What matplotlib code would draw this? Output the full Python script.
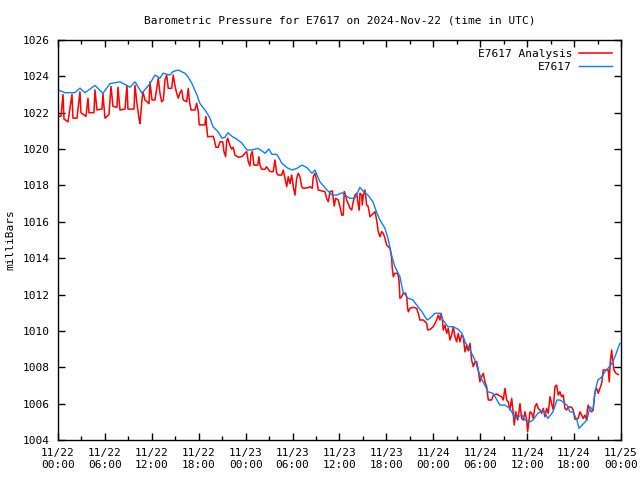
import datetime as dt

import matplotlib
matplotlib.use('Agg')
import matplotlib.dates as mdates
import matplotlib.pyplot as plt

# Station pressure (hours after 2024-11-22 00:00 UTC, mbar)
obs_hours = [
    0.0, 0.9, 2.17, 2.81, 3.45, 4.73, 5.75, 6.65, 7.93, 9.21, 9.85, 10.74,
    11.76, 12.40, 13.04, 13.43, 14.32, 14.71, 15.35, 16.24, 16.62, 17.14,
    17.77, 18.16, 18.80, 19.44, 19.82, 20.46, 20.97, 21.36, 21.74, 22.25,
    22.89, 23.53, 24.17, 24.81, 25.58, 26.09, 26.47, 26.98, 27.37, 28.0,
    28.64, 29.28, 29.92, 30.56, 31.20, 31.84, 32.48, 32.86, 33.50, 34.40,
    35.04, 35.68, 36.32, 36.70, 37.34, 37.98, 38.62, 39.0, 39.64, 40.28,
    40.79, 41.18, 41.82, 42.2, 42.71, 43.09, 43.73, 44.12, 44.76, 45.40,
    46.04, 46.55, 47.19, 47.57, 48.21, 48.85, 49.23, 49.87, 50.51, 51.15,
    51.66, 52.05, 52.69, 53.32, 53.71, 54.22, 54.60, 54.99, 55.63, 56.14,
    56.52, 57.16, 57.80, 58.44, 58.82, 59.34, 59.72, 60.36, 60.74, 61.38,
    62.02, 62.66, 63.30, 63.81, 64.19, 64.58, 65.09, 65.47, 65.86, 66.37,
    66.62, 67.01, 67.65, 68.03, 68.41, 68.67, 69.05, 69.57, 69.95, 70.33,
    70.84, 71.23, 71.61, 71.87,
]
obs_mb = [
    1023.25, 1023.1, 1023.1, 1023.35, 1023.1, 1023.5, 1023.07, 1023.6,
    1023.7, 1023.4, 1023.7, 1023.07, 1023.6, 1024.07, 1023.9, 1024.17,
    1024.07, 1024.26, 1024.35, 1024.17, 1023.98, 1023.6, 1022.97, 1022.5,
    1022.15, 1021.7, 1021.23, 1020.96, 1020.6, 1020.65, 1020.9, 1020.7,
    1020.54, 1020.32, 1019.95, 1019.95, 1020.04, 1019.9, 1019.77, 1020.0,
    1019.71, 1019.71, 1019.22, 1018.98, 1018.85, 1018.94, 1019.12, 1018.98,
    1018.67, 1018.85, 1018.2, 1017.75, 1017.47, 1017.47, 1017.6, 1017.47,
    1017.29, 1017.3, 1017.9, 1017.7, 1017.47, 1017.1, 1016.47, 1016.1,
    1015.64, 1015.09, 1014.08, 1013.53, 1012.98, 1012.15, 1011.8, 1011.7,
    1011.33, 1011.05, 1010.6, 1010.7, 1010.97, 1010.97, 1010.6, 1010.23,
    1010.23, 1010.1, 1009.87, 1009.4, 1008.95, 1008.4, 1007.85, 1007.3,
    1007.02, 1006.65, 1006.57, 1006.2, 1005.92, 1005.92, 1005.74, 1005.19,
    1005.28, 1005.37, 1005.1, 1005.0, 1005.1, 1005.47, 1005.65, 1005.19,
    1005.55, 1006.2, 1006.2, 1006.1, 1005.92, 1005.55, 1005.55, 1005.1,
    1004.64, 1004.82, 1005.1, 1005.83, 1005.65, 1006.65, 1007.3, 1007.48,
    1007.76, 1007.94, 1008.22, 1008.58, 1009.04, 1009.32,
]

# Analysis pressure
ana_hours = [
    0.0, 0.38, 0.64, 0.77, 1.28, 1.79, 1.92, 2.43, 2.81, 2.94, 3.58, 3.84,
    3.96, 4.60, 4.73, 4.99, 5.63, 5.75, 6.01, 6.52, 6.78, 7.03, 7.54, 7.67,
    7.93, 8.57, 8.82, 8.95, 9.72, 9.85, 10.10, 10.36, 10.49, 10.74, 10.87,
    11.13, 11.64, 11.76, 12.02, 12.40, 12.83, 13.04, 13.26, 13.47, 13.68,
    13.90, 14.10, 14.54, 14.74, 14.96, 15.18, 15.38, 15.6, 15.82, 16.02,
    16.46, 16.66, 16.79, 17.01, 17.52, 17.74, 17.94, 18.07, 18.80, 18.89,
    18.99, 19.14, 19.86, 19.99, 20.20, 20.50, 20.72, 21.06, 21.23, 21.44,
    21.57, 21.70, 21.99, 22.21, 22.42, 22.63, 23.06, 23.57, 23.91, 24.13,
    24.34, 24.55, 24.68, 24.85, 25.06,
    25.19, 25.54, 25.70, 25.83, 26.05, 26.47, 26.69, 26.89, 27.11, 27.53,
    27.75, 27.97, 28.17, 28.61, 28.81, 29.25, 29.45, 29.67, 29.89, 30.09,
    30.31, 30.52, 30.73, 30.95, 31.16, 31.37, 32.01, 32.23, 32.52, 32.65,
    32.86, 33.08, 33.29, 33.72, 34.14, 34.36, 34.57, 34.78, 35.08, 35.33,
    35.51, 35.84, 36.06, 36.28, 36.48, 36.61, 36.70, 36.92, 37.12, 37.34,
    37.56, 37.76,
    37.98, 38.20, 38.40, 38.53, 38.62, 38.84, 38.91, 39.04, 39.26, 39.48,
    39.68, 39.90, 40.12, 40.32, 40.54, 40.75, 40.96, 41.18, 41.39, 41.60,
    41.82, 42.03, 42.24, 42.46, 42.67, 42.75, 42.88, 43.09, 43.44, 43.61,
    43.73, 43.95, 44.16, 44.46, 44.59, 44.72, 44.80, 45.01, 45.43, 45.87,
    46.07, 46.29, 46.71, 46.93, 47.15, 47.28, 47.57, 47.99, 48.43, 48.63,
    48.85, 48.98, 49.14, 49.27, 49.49, 49.71, 49.91, 50.13, 50.35, 50.55,
    50.77, 50.98, 51.19, 51.41, 51.62, 51.83,
    52.05, 52.26, 52.47, 52.69, 52.90, 53.11, 53.32, 53.54, 53.75, 53.96,
    54.18, 54.39, 54.60, 54.82, 55.03, 55.46, 55.67, 56.10, 56.30, 56.74,
    56.94, 57.16, 57.38, 57.58, 57.80, 58.02, 58.22, 58.35, 58.53, 58.79,
    58.95, 59.08, 59.30, 59.50, 59.72, 59.94, 60.06, 60.23, 60.36, 60.58,
    60.78, 61.00, 61.21, 61.42, 61.64, 61.85, 62.06, 62.28, 62.49, 62.70,
    62.92, 63.13, 63.34, 63.55, 63.77, 63.98, 64.19, 64.41, 64.62,
    64.83, 65.05, 65.26, 65.69, 65.90, 66.11, 66.53, 66.75, 66.97, 67.17,
    67.39, 67.61, 67.69, 67.81, 68.03, 68.25, 68.45, 68.67, 68.89, 69.09,
    69.31, 69.53, 69.73, 69.95, 70.37, 70.50, 70.59, 70.68, 70.81, 70.93,
    71.10, 71.36, 71.65,
]
ana_mb = [
    1021.8, 1021.8, 1023.0, 1021.65, 1021.5, 1023.0, 1021.7, 1021.7, 1023.15,
    1022.0, 1021.8, 1022.8, 1022.0, 1022.0, 1023.25, 1022.15, 1022.2, 1023.05,
    1021.7, 1021.9, 1023.45, 1022.35, 1022.3, 1023.4, 1022.15, 1022.2, 1023.5,
    1022.2, 1022.2, 1023.5, 1022.5, 1021.7, 1021.4, 1022.7, 1023.15, 1022.7,
    1022.5, 1023.7, 1022.7, 1022.7, 1023.9, 1023.07, 1022.6, 1022.7, 1023.8,
    1024.07, 1023.34, 1023.34, 1024.07, 1023.5, 1023.07, 1022.8, 1023.1,
    1023.25, 1022.7, 1022.6, 1023.34, 1022.7, 1022.15, 1022.15, 1022.52,
    1022.06, 1021.33, 1021.33, 1021.78, 1021.33, 1020.68, 1020.7, 1020.5,
    1020.1, 1020.1, 1020.4, 1020.4, 1019.86, 1019.58, 1020.4, 1020.6, 1020.2,
    1020.0, 1020.1, 1019.67, 1019.55, 1019.6, 1019.77, 1019.86, 1019.3,
    1019.07, 1019.7, 1019.86, 1019.12,
    1019.12, 1019.12, 1019.58, 1019.12, 1018.89, 1018.89, 1019.03, 1018.89,
    1018.76, 1018.76, 1019.4, 1018.67, 1018.57, 1018.57, 1018.85, 1017.93,
    1018.48, 1018.1, 1018.57, 1017.93, 1017.47, 1018.39, 1018.67, 1018.48,
    1017.93, 1017.84, 1017.88, 1017.93, 1017.84, 1018.48, 1018.67, 1018.3,
    1017.75, 1017.7, 1017.66, 1017.29, 1017.1, 1017.66, 1017.7, 1016.87,
    1017.29, 1017.2, 1016.83, 1016.37, 1016.37, 1017.66, 1017.57, 1017.2,
    1017.0, 1016.74, 1016.65, 1017.1,
    1017.47, 1017.57, 1016.92, 1016.65, 1017.57, 1017.47, 1016.92, 1017.47,
    1017.75, 1016.92, 1016.83, 1016.28, 1016.37, 1016.46, 1016.56, 1016.1,
    1015.46, 1015.18, 1015.46, 1015.37, 1015.09, 1014.72, 1014.63, 1014.54,
    1014.0, 1013.44, 1012.98, 1013.17, 1013.17, 1012.8, 1011.79, 1011.88,
    1012.07, 1012.07, 1011.88, 1011.24, 1011.05, 1011.24, 1011.3, 1011.24,
    1010.97, 1010.6, 1010.6, 1010.51, 1010.42, 1010.05, 1010.08, 1010.23,
    1010.6, 1010.87, 1010.6, 1010.97, 1010.69, 1010.05, 1010.32, 1009.87,
    1010.14, 1009.5, 1009.77, 1010.23, 1009.68, 1009.4, 1009.86, 1009.4,
    1009.77, 1009.68,
    1008.85, 1009.2, 1008.9, 1009.32, 1008.4, 1008.03, 1008.3, 1008.31,
    1007.85, 1007.2, 1007.48, 1007.67, 1007.2, 1006.93, 1006.2, 1006.2,
    1006.47, 1006.53, 1006.47, 1006.38, 1006.2, 1006.84, 1006.2, 1006.1,
    1005.65, 1006.29, 1005.47, 1004.82, 1005.56, 1005.1, 1005.55, 1006.0,
    1005.19, 1005.1, 1005.55, 1005.1, 1004.45, 1005.1, 1005.55, 1005.47,
    1005.19, 1005.83, 1006.0, 1005.74, 1005.65, 1005.47, 1005.74, 1005.28,
    1005.74, 1005.47, 1006.38, 1006.0, 1005.65, 1006.93, 1007.02, 1006.47,
    1006.65, 1006.38, 1006.47,
    1005.74, 1005.65, 1005.83, 1005.8, 1005.65, 1005.14, 1005.19, 1005.55,
    1005.37, 1005.19, 1005.37, 1005.1, 1005.65, 1005.92, 1005.65, 1005.55,
    1005.65, 1006.65, 1006.84, 1006.57, 1006.84, 1007.12, 1007.85, 1007.85,
    1007.85, 1007.2, 1008.03, 1008.49, 1008.95, 1008.4, 1007.85, 1007.67,
    1007.6,
]

start = dt.datetime(2024, 11, 22)
y_ticks = list(range(1004, 1027, 2))

plt.rcParams['font.family'] = ['DejaVu Sans Mono']
plt.rcParams['font.size'] = 8

obs_t = [start + dt.timedelta(hours=h) for h in obs_hours]
ana_t = [start + dt.timedelta(hours=h) for h in ana_hours]

fig = plt.figure(figsize=(6.4, 4.8), dpi=100)
ax = fig.add_axes([0.0906, 0.0833, 0.8797, 0.8334])

ax.plot(ana_t, ana_mb, color='#ff0000', linewidth=1.1, label='E7617 Analysis')
ax.plot(obs_t, obs_mb, color='#0a80ff', linewidth=1.0, label='E7617')

ax.set_xlim(start, start + dt.timedelta(hours=72))
ax.set_ylim(1004, 1026)
ax.set_yticks(y_ticks)

ax.xaxis.set_major_locator(mdates.HourLocator(byhour=[0, 6, 12, 18]))
ax.xaxis.set_minor_locator(mdates.HourLocator(byhour=[3, 9, 15, 21]))
ax.xaxis.set_major_formatter(mdates.DateFormatter('%m/%d\n%H:%M'))

ax.tick_params(which='both', direction='in', top=True, right=True, width=1)
ax.tick_params(which='major', length=5, pad=6)
ax.tick_params(which='minor', length=3)
for s in ax.spines.values():
    s.set_linewidth(1.0)

ax.set_title('Barometric Pressure for E7617 on 2024-Nov-22 (time in UTC)',
             fontsize=8, pad=12)
# y label sits near the left edge, like gnuplot does it
fig.text(10 / 640, 0.5, 'milliBars', rotation=90, ha='center', va='center')

ax.legend(loc='upper right', frameon=False, markerfirst=False,
          handlelength=3.0, handletextpad=0.6, labelspacing=0.3,
          borderaxespad=0.4, fontsize=8)

fig.savefig('out.png', dpi=100)
